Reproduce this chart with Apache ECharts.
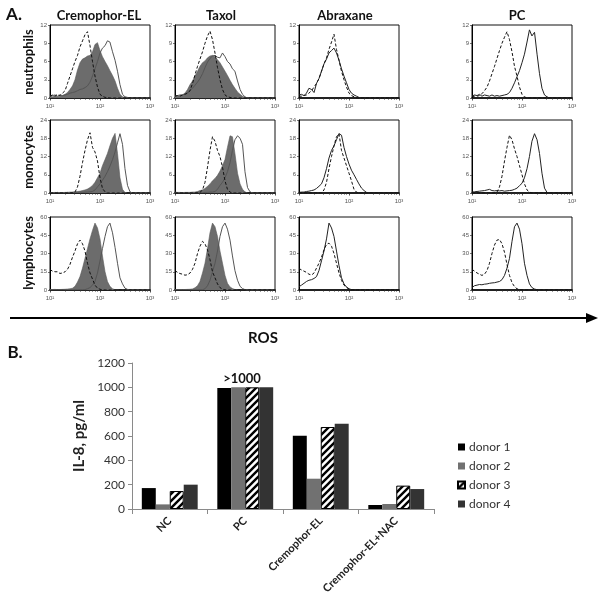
<!DOCTYPE html>
<html><head><meta charset="utf-8">
<script src="https://cdn.jsdelivr.net/npm/echarts@6/dist/echarts.min.js"></script>
<style>html,body{margin:0;padding:0;background:#fff}#c{width:600px;height:600px}</style>
</head><body><div id="c"></div>
<script>
// ---------- Panel A: flow cytometry histograms (ROS fluorescence, log bins) ----------
const bins = [10,11.2,12.6,14.1,15.8,17.8,20,22.4,25.1,28.2,31.6,35.5,39.8,44.7,50.1,56.2,63.1,70.8,79.4,89.1,100,112,126,141,158,178,200,224,251,282,316,355,398,447,501,562,631,708,794,891,1000];
const columns = ['Cremophor-EL','Taxol','Abraxane','PC'];
const rows = ['neutrophils','monocytes','lymphocytes'];
const rowMax = [12,24,60];
const rowStep = [3,6,15];
const xTickLabels = {10:'10\u00b9',100:'10\u00b2',1000:'10\u00b3'};

// neutrophils
const D1=[0.3,0.5,0.3,0.6,0.4,0.8,1.2,2.4,3.6,4.8, 6.0,7.0,8.4,9.4,10.4,10.9,8.6,6.0,3.6,1.8, 0.6,0.3,0.1,0.1,0,0,0,0,0,0, 0,0,0,0,0,0,0,0,0,0, 0];
const F1=[0.3,0.2,0.3,0.2,0.3,0.4,0.6,0.9,1.4,2.0, 3.0,4.6,5.8,6.4,6.6,6.9,7.0,7.6,8.8,9.1, 7.8,6.8,6.0,5.3,4.5,3.7,2.8,1.6,0.6,0.2, 0.1,0,0,0,0,0,0,0,0,0, 0];
const S1=[0.3,0.4,0.5,0.3,0.5,0.4,0.5,0.6,0.8,0.9, 1.0,1.2,1.4,1.5,1.7,2.0,2.6,3.6,4.8,6.0, 7.4,8.2,8.6,9.4,9.2,7.6,6.2,4.4,2.2,0.6, 0.2,0.1,0,0,0,0,0,0,0,0, 0];
const D2=[0.3,0.4,0.3,0.5,0.6,0.8,1.2,2.4,3.8,5.2, 6.4,7.6,9.0,10.2,11.0,9.6,7.4,5.0,3.0,1.4, 0.5,0.2,0.1,0,0,0,0,0,0,0, 0,0,0,0,0,0,0,0,0,0, 0];
const F2=[0.3,0.3,0.4,0.5,0.8,1.4,2.2,2.8,3.6,4.4, 5.2,5.8,6.1,6.6,6.9,7.0,6.8,6.3,5.8,5.1, 4.4,3.7,2.9,2.2,1.6,1.0,0.6,0.3,0.1,0, 0,0,0,0,0,0,0,0,0,0, 0];
const S2=[0.3,0.4,0.5,0.5,0.7,0.9,1.2,1.6,2.1,2.6, 3.2,4.0,5.0,5.9,6.5,6.9,7.0,6.7,6.6,7.4, 6.8,6.0,5.6,4.8,4.4,2.8,1.4,0.6,0.2,0, 0,0,0,0,0,0,0,0,0,0, 0];
const S3=[0.5,0.6,0.4,0.8,1.6,1.4,0.9,2.4,3.2,4.4, 5.6,6.4,7.4,7.8,8.2,7.4,6.2,4.8,3.6,2.5, 1.4,0.8,0.5,0.3,0.1,0,0,0,0,0, 0,0,0,0,0,0,0,0,0,0, 0];
const D3=[0.3,0.3,0.4,0.5,0.8,1.2,1.8,2.4,3.2,4.4, 5.6,6.6,8.0,9.2,10.5,8.0,6.2,4.4,3.0,1.8, 0.8,0.4,0.2,0,0,0,0,0,0,0, 0,0,0,0,0,0,0,0,0,0, 0];
const D4=[0.2,0.3,0.3,0.4,0.7,1.2,1.8,2.8,4.0,5.2, 6.5,7.8,9.0,10.0,10.9,9.6,7.6,5.2,3.6,1.8, 0.6,0.2,0,0,0,0,0,0,0,0, 0,0,0,0,0,0,0,0,0,0, 0];
const S4=[0.3,0.5,0.4,0.6,0.3,0.5,0.4,0.3,0.5,0.3, 0.4,0.3,0.4,0.5,0.6,0.9,1.6,2.5,3.5,4.5, 5.8,7.2,9.2,11.2,10.2,10.8,7.2,4.0,1.6,0.5, 0.2,0,0,0,0,0,0,0,0,0, 0];
// monocytes
const D5=[0,0,0,0,0,0,0,0,0,0.1, 0.3,2.0,5.5,10.0,14.0,17.5,19.8,15.0,13.5,10.5, 5.0,1.5,0.4,0,0,0,0,0,0,0, 0,0,0,0,0,0,0,0,0,0, 0];
const F5=[0.2,0.1,0.2,0.1,0.1,0.1,0.2,0.2,0.3,0.3, 0.4,0.5,0.6,0.8,1.0,1.3,1.8,2.5,3.5,5.0, 6.5,9.0,11.0,13.0,15.5,18.0,19.6,13.0,5.0,1.2, 0.2,0,0,0,0,0,0,0,0,0, 0];
const S5=[0.2,0.1,0.1,0.2,0.1,0.1,0.1,0.2,0.1,0.2, 0.2,0.2,0.3,0.2,0.3,0.3,0.4,0.5,1.0,2.0, 3.0,4.2,5.5,7.0,8.8,11.0,13.5,16.5,19.5,16.0, 8.0,2.5,0.4,0,0,0,0,0,0,0, 0];
const D6=[0,0,0,0,0,0,0,0,0,0.1, 0.2,1.0,3.5,8.5,14.0,18.5,17.0,14.0,12.0,8.5, 4.0,1.2,0.3,0,0,0,0,0,0,0, 0,0,0,0,0,0,0,0,0,0, 0];
const F6=[0.3,0.2,0.2,0.1,0.2,0.2,0.2,0.3,0.3,0.5, 0.8,1.0,1.5,2.2,3.0,4.0,4.8,5.8,7.2,9.0, 11.0,15.0,18.8,18.5,13.0,6.5,3.0,1.2,0.4,0, 0,0,0,0,0,0,0,0,0,0, 0];
const S6=[0.1,0.1,0.1,0.1,0.1,0.1,0.1,0.1,0.1,0.1, 0.1,0.1,0.2,0.2,0.3,0.3,0.5,1.2,2.5,3.5, 5.0,7.0,10.0,14.0,17.5,18.8,18.0,16.0,7.0,1.8, 0.4,0,0,0,0,0,0,0,0,0, 0];
const S7=[0.2,0.3,0.3,0.5,0.6,0.8,1.0,1.5,2.2,3.0, 5.0,8.0,11.5,14.0,15.5,17.5,19.5,19.0,15.0,12.0, 9.5,7.5,6.0,4.5,3.0,1.6,0.8,0.2,0,0, 0,0,0,0,0,0,0,0,0,0, 0];
const D7=[0,0,0,0,0,0,0,0,0,0, 1.0,3.5,8.0,12.0,15.5,18.5,19.5,14.0,11.5,9.0, 6.5,4.0,1.2,0.3,0,0,0,0,0,0, 0,0,0,0,0,0,0,0,0,0, 0];
const D8=[0,0,0,0,0,0,0,0,0,0, 0.3,2.0,5.5,10.5,15.0,19.0,17.5,14.5,12.0,9.0, 6.0,3.0,1.0,0.3,0,0,0,0,0,0, 0,0,0,0,0,0,0,0,0,0, 0];
const S8=[0.3,0.4,0.5,0.6,0.7,0.8,1.0,1.2,0.8,0.7, 0.8,0.7,0.8,0.6,0.7,0.8,0.9,1.2,1.6,2.4, 3.2,5.0,8.0,12.0,17.0,19.5,17.5,13.0,6.5,1.6, 0.2,0,0,0,0,0,0,0,0,0, 0];
// lymphocytes
const D9=[16.9,15.5,15.0,15.0,13.6,14.0,15.0,17.0,21.0,27.0, 32.0,38.0,41.0,38.0,32.0,22.0,14.0,9.0,4.0,1.5, 0.6,0.2,0,0,0,0,0,0,0,0, 0,0,0,0,0,0,0,0,0,0, 0];
const F9=[0.5,0.4,0.5,0.3,0.4,0.5,0.6,0.8,1.0,1.5, 3.0,6.5,11.0,18.0,26.0,34.0,42.0,49.0,55.0,51.0, 42.0,28.0,15.0,7.0,3.0,1.0,0.3,0,0,0, 0,0,0,0,0,0,0,0,0,0, 0];
const S9=[0.2,0.2,0.2,0.2,0.2,0.2,0.2,0.2,0.2,0.2, 0.2,0.2,0.2,0.2,0.3,1.0,2.0,4.0,7.0,14.0, 24.0,34.0,44.0,52.0,55.0,47.0,35.0,22.0,10.0,5.0, 1.5,0.5,0,0,0,0,0,0,0,0, 0];
const D10=[16.0,14.5,13.5,13.0,12.2,12.5,14.0,17.0,22.0,30.0, 36.0,40.0,38.0,33.0,25.0,15.0,10.0,5.0,2.0,0.6, 0.2,0,0,0,0,0,0,0,0,0, 0,0,0,0,0,0,0,0,0,0, 0];
const F10=[0.3,0.3,0.4,0.3,0.4,0.5,0.6,0.9,1.8,3.5, 7.0,14.0,22.0,34.0,47.0,55.0,52.0,44.0,32.0,22.0, 12.0,5.5,2.5,1.2,0.4,0,0,0,0,0, 0,0,0,0,0,0,0,0,0,0, 0];
const S10=[0.2,0.2,0.2,0.2,0.2,0.2,0.2,0.2,0.2,0.2, 0.2,0.2,1.0,3.5,8.0,15.0,22.0,32.0,44.0,52.0, 55.0,50.0,41.0,28.0,16.0,8.0,3.0,1.2,0.3,0, 0,0,0,0,0,0,0,0,0,0, 0];
const D11=[17.7,16.5,15.5,14.5,13.0,12.3,14.0,18.0,22.0,27.0, 33.0,37.5,38.5,36.0,30.0,22.0,14.0,8.0,4.0,2.0, 0.8,0.2,0,0,0,0,0,0,0,0, 0,0,0,0,0,0,0,0,0,0, 0];
const S11=[2.7,4.0,5.5,7.0,8.0,8.5,9.5,11.0,16.0,24.0, 32.0,42.0,55.0,51.0,44.0,32.0,20.0,10.0,5.0,2.5, 1.0,0.3,0,0,0,0,0,0,0,0, 0,0,0,0,0,0,0,0,0,0, 0];
const D12=[17.0,15.5,14.0,13.0,12.0,13.0,16.0,22.0,30.0,37.0, 41.0,41.5,38.0,31.0,21.0,12.0,6.0,2.8,1.0,0.4, 0.2,0,0,0,0,0,0,0,0,0, 0,0,0,0,0,0,0,0,0,0, 0];
const S12=[2.0,3.5,4.0,4.5,4.3,4.8,5.0,5.5,5.8,6.0, 6.5,7.0,8.5,12.0,18.0,26.0,40.0,52.0,55.0,50.0, 38.0,22.0,12.0,5.0,2.0,0.8,0.2,0,0,0, 0,0,0,0,0,0,0,0,0,0, 0];

const panelCurves = [
  {d:D1,f:F1,s:S1},{d:D2,f:F2,s:S2},{d:D3,s:S3},{d:D4,s:S4},
  {d:D5,f:F5,s:S5},{d:D6,f:F6,s:S6},{d:D7,s:S7},{d:D8,s:S8},
  {d:D9,f:F9,s:S9},{d:D10,f:F10,s:S10},{d:D11,s:S11},{d:D12,s:S12}
];

// ---------- Panel B: IL-8 bar chart ----------
const categories = ['NC','PC','Cremophor-EL','Cremophor-EL+NAC'];
const donorNames = ['donor 1','donor 2','donor 3','donor 4'];
const donor1 = [172, 995, 602, 33];
const donor2 = [38, 1000, 249, 41];
const donor3 = [148, 1000, 674, 192];
const donor4 = [200, 1000, 700, 164];
const yTicksB = {min:0, max:1200, step:200};

// ---------- layout / style ----------
const colLeft = [50,175,299,472];
const rowTop = [25,120,217];
const pw = 100, ph = 73;
const FONT = 'Lato';

const hatch = document.createElement('canvas');
hatch.width = 7; hatch.height = 7;
(function(){
  const g = hatch.getContext('2d');
  g.fillStyle = '#fff'; g.fillRect(0,0,7,7);
  g.strokeStyle = '#000'; g.lineWidth = 2.4; g.lineCap = 'square';
  g.beginPath();
  g.moveTo(0,7); g.lineTo(7,0);
  g.moveTo(-3.5,3.5); g.lineTo(3.5,-3.5);
  g.moveTo(3.5,10.5); g.lineTo(10.5,3.5);
  g.stroke();
})();

const grids = [], xAxes = [], yAxes = [], series = [];
rows.forEach((rn, r) => {
  columns.forEach((cn, c) => {
    const k = r*4 + c;
    grids.push({left: colLeft[c], top: rowTop[r], width: pw, height: ph, show: true,
      borderColor: '#111', borderWidth: 1, backgroundColor: 'transparent', outerBoundsMode: 'none'});
    xAxes.push({type: 'log', logBase: 10, min: 10, max: 1000, gridIndex: k,
      axisLine: {lineStyle: {color: '#000', width: 1.6}},
      axisTick: {show: true, length: 2.5, lineStyle: {color: '#222', width: 0.8}},
      minorTick: {show: true, splitNumber: 9, length: 1.8, lineStyle: {color: '#333', width: 0.6}},
      splitLine: {show: false}, minorSplitLine: {show: false},
      axisLabel: {fontSize: 6, color: '#555', margin: 5, fontFamily: 'Liberation Sans',
        showMinLabel: true, showMaxLabel: true, formatter: v => xTickLabels[Math.round(v)] || ''}
    });
    yAxes.push({type: 'value', min: 0, max: rowMax[r], interval: rowStep[r], gridIndex: k,
      axisLine: {show: true, lineStyle: {color: '#000', width: 1}},
      axisTick: {show: true, length: 2, lineStyle: {color: '#333', width: 0.7}},
      splitLine: {show: false},
      axisLabel: {fontSize: 6, color: '#555', margin: 3, fontFamily: 'Liberation Sans'}
    });
    const pc = panelCurves[k];
    const mk = arr => bins.map((b, i) => [b, arr[i]]);
    if (pc.f) series.push({type: 'line', xAxisIndex: k, yAxisIndex: k, data: mk(pc.f), symbol: 'none',
      lineStyle: {color: '#5a5a5a', width: 0.6}, areaStyle: {color: '#6c6c6c', opacity: 1}, z: 1});
    series.push({type: 'line', xAxisIndex: k, yAxisIndex: k, data: mk(pc.s), symbol: 'none',
      lineStyle: {color: pc.f ? '#555' : '#222', width: 1}, z: 2});
    series.push({type: 'line', xAxisIndex: k, yAxisIndex: k, data: mk(pc.d), symbol: 'none',
      lineStyle: {color: '#111', width: 1, type: [3, 2]}, z: 3});
  });
});

// bar chart grid (index 12)
grids.push({left: 132, top: 363, width: 302, height: 146, outerBoundsMode: 'none'});
xAxes.push({type: 'category', gridIndex: 12, data: categories,
  axisLine: {lineStyle: {color: '#8a8a8a'}},
  axisTick: {show: true, length: 5, lineStyle: {color: '#8a8a8a'}},
  axisLabel: {rotate: 45, interval: 0, fontSize: 11, fontWeight: 'bold', color: '#222', fontFamily: FONT, margin: 10}
});
yAxes.push({type: 'value', gridIndex: 12, min: yTicksB.min, max: yTicksB.max, interval: yTicksB.step,
  axisLine: {show: true, lineStyle: {color: '#8a8a8a'}},
  axisTick: {show: true, length: 4, lineStyle: {color: '#8a8a8a'}},
  splitLine: {show: false},
  axisLabel: {fontSize: 12, color: '#333', fontFamily: FONT, margin: 7, formatter: v => String(v)},
  name: 'IL-8, pg/ml', nameLocation: 'middle', nameGap: 35,
  nameTextStyle: {fontSize: 15, fontWeight: 'bold', color: '#222', fontFamily: FONT}
});
const donorData = [donor1, donor2, donor3, donor4];
const donorStyle = [
  {color: '#000'},
  {color: '#717171'},
  {color: {image: hatch, repeat: 'repeat'}, borderColor: '#000', borderWidth: 1},
  {color: '#333'}
];
donorData.forEach((d, i) => {
  series.push({type: 'bar', name: donorNames[i], xAxisIndex: 12, yAxisIndex: 12, data: d,
    barGap: '0%', barCategoryGap: '26%', itemStyle: donorStyle[i]});
});

const txt = (text, x, y, size, extra) => Object.assign({type: 'text', x: x, y: y, silent: true,
  style: {text: text, fontSize: size, fontWeight: 'bold', fontFamily: FONT, fill: '#111',
    textAlign: 'center', textVerticalAlign: 'middle'}}, extra || {});

const graphics = [
  txt('A.', 14, 15, 17),
  txt('B.', 15, 353, 17),
  txt(columns[0], 99, 16, 13), txt(columns[1], 221, 16, 13),
  txt(columns[2], 345, 16, 13), txt(columns[3], 517, 16, 13),
  txt(rows[0], 29, 62, 13, {rotation: Math.PI/2}),
  txt(rows[1], 29, 157, 13, {rotation: Math.PI/2}),
  txt(rows[2], 29, 253, 13, {rotation: Math.PI/2}),
  {type: 'line', silent: true, shape: {x1: 10, y1: 318, x2: 590, y2: 318}, style: {stroke: '#000', lineWidth: 2}},
  {type: 'polygon', silent: true, shape: {points: [[586, 313], [598, 318], [586, 323]]}, style: {fill: '#000'}},
  txt('ROS', 263, 338, 15),
  txt('>1000', 242, 379, 13)
];

const chart = echarts.init(document.getElementById('c'), null, {renderer: 'canvas'});
chart.setOption({
  animation: false,
  backgroundColor: '#fff',
  textStyle: {fontFamily: FONT},
  grid: grids, xAxis: xAxes, yAxis: yAxes, series: series,
  legend: {data: donorNames, orient: 'vertical', left: 452, top: 436, itemWidth: 7, itemHeight: 7,
    itemGap: 7, icon: 'rect', textStyle: {fontSize: 12, color: '#333', fontFamily: FONT, padding: [0,0,0,-1]}},
  graphic: graphics
});
</script>
</body></html>
